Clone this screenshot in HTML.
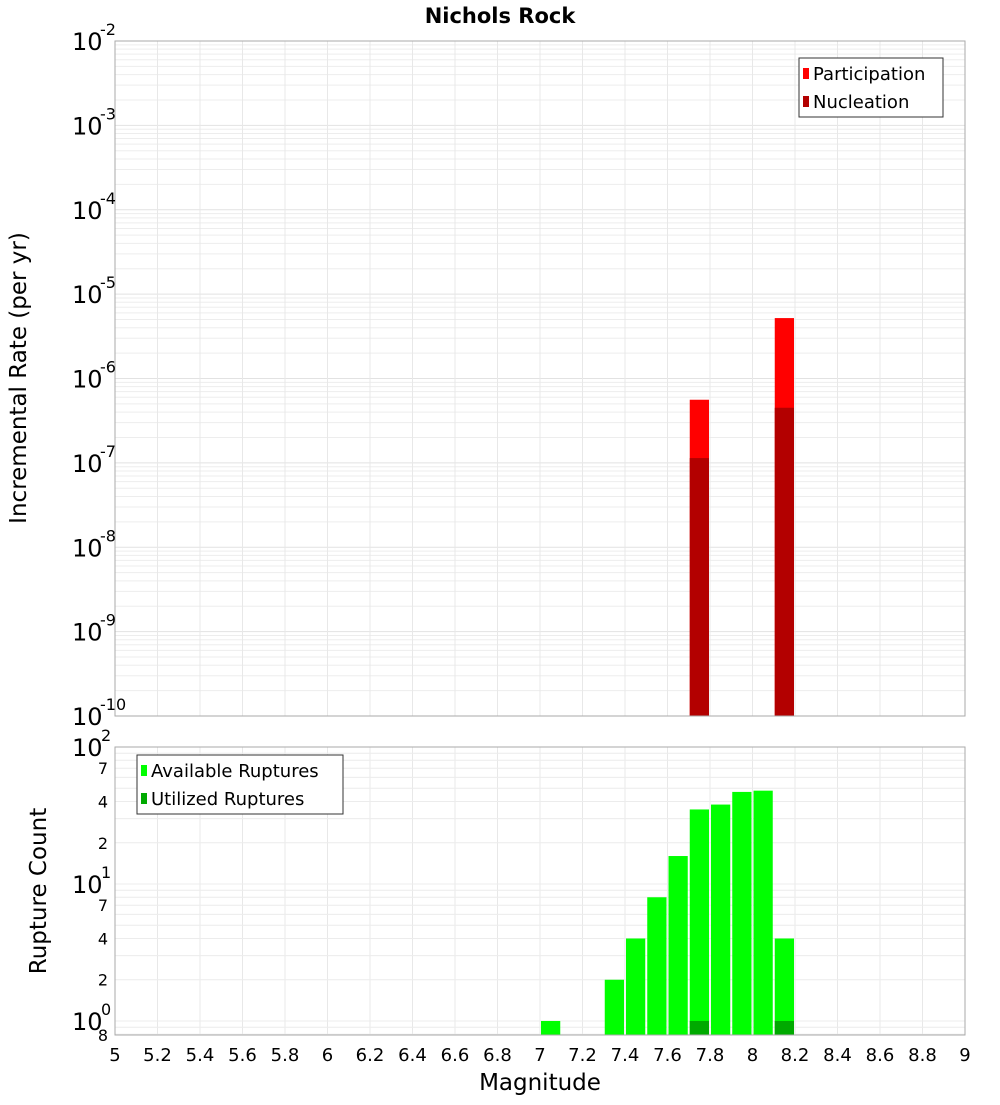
<!DOCTYPE html>
<html><head><meta charset="utf-8">
<style>
html,body{margin:0;padding:0;background:#fff;}
svg text{font-family:"DejaVu Sans","Liberation Sans",sans-serif;fill:#000;}
</style></head>
<body>
<svg id="c" width="1000" height="1100" xmlns="http://www.w3.org/2000/svg">
<text x="500" y="23" text-anchor="middle" font-size="21" font-weight="bold">Nichols Rock</text>
<g id="topPlot"></g>
<g id="botPlot"></g>
<text transform="translate(26,378) rotate(-90)" text-anchor="middle" font-size="23">Incremental Rate (per yr)</text>
<text transform="translate(46,891) rotate(-90)" text-anchor="middle" font-size="23">Rupture Count</text>
<text x="540" y="1090" text-anchor="middle" font-size="23">Magnitude</text>
</svg>
<script>
const xTicks=[5,5.2,5.4,5.6,5.8,6,6.2,6.4,6.6,6.8,7,7.2,7.4,7.6,7.8,8,8.2,8.4,8.6,8.8,9];
const xTickLabels=["5","5.2","5.4","5.6","5.8","6","6.2","6.4","6.6","6.8","7","7.2","7.4","7.6","7.8","8","8.2","8.4","8.6","8.8","9"];
const rateMags=[7.75,8.15];
const participation=[5.6e-7,5.2e-6];
const nucleation=[1.14e-7,4.5e-7];
const countMags=[7.05,7.35,7.45,7.55,7.65,7.75,7.85,7.95,8.05,8.15];
const available=[1,2,4,8,16,35,38,47,48,4];
const utilizedMags=[7.75,8.15];
const utilized=[1,1];
const rateExps=[-2,-3,-4,-5,-6,-7,-8,-9,-10];
const countMinorLabels=[2,4,7];

const NS="http://www.w3.org/2000/svg";
const L=115,R=965;
const T1=41,B1=716,T2=747,B2=1035;
const cMin=0.79,cMax=100;
function xs(m){return L+(m-5)/4*(R-L);}
function ys1(v){return T1+(-2-Math.log10(v))/8*(B1-T1);}
function ys2(v){return B2-(Math.log10(v)-Math.log10(cMin))/(Math.log10(cMax)-Math.log10(cMin))*(B2-T2);}
function mk(p,tag,at){const e=document.createElementNS(NS,tag);for(const k in at)e.setAttribute(k,at[k]);p.appendChild(e);return e;}
const topG=document.getElementById('topPlot'),botG=document.getElementById('botPlot');
const binW=0.1*(R-L)/4;

for(let d=-10;d<-2;d++){for(let k=1;k<10;k++){const y=ys1(k*Math.pow(10,d));
 const g=mk(topG,'line',{x1:L,x2:R,y1:y,y2:y,stroke:k==1?'#e2e2e2':'#ededed','stroke-width':1});
 
 }}
for(const t of xTicks){const x=xs(t);
 const g=mk(topG,'line',{x1:x,x2:x,y1:T1,y2:B1,stroke:'#e8e8e8','stroke-width':1});
 
 
 const g2=mk(botG,'line',{x1:x,x2:x,y1:T2,y2:B2,stroke:'#e8e8e8','stroke-width':1});
 
 }
for(let d=-1;d<2;d++){for(let k=1;k<10;k++){const v=k*Math.pow(10,d);if(v<cMin||v>cMax)continue;const y=ys2(v);
 const g=mk(botG,'line',{x1:L,x2:R,y1:y,y2:y,stroke:'#ececec','stroke-width':1});
 
 }}

rateMags.forEach((m,i)=>{const x=xs(m)-binW/2+1;
 const b=mk(topG,'rect',{x:x,y:ys1(participation[i]),width:binW-2,height:B1-ys1(participation[i]),fill:'#ff0000'});
 
 
 const n=mk(topG,'rect',{x:x,y:ys1(nucleation[i]),width:binW-2,height:B1-ys1(nucleation[i]),fill:'#b30000'});
 
 });
countMags.forEach((m,i)=>{const x=xs(m)-binW/2+1;
 const b=mk(botG,'rect',{x:x,y:ys2(available[i]),width:binW-2,height:B2-ys2(available[i]),fill:'#00ff00'});
 
 });
utilizedMags.forEach((m,i)=>{const x=xs(m)-binW/2+1;
 const b=mk(botG,'rect',{x:x,y:ys2(utilized[i]),width:binW-2,height:B2-ys2(utilized[i]),fill:'#00aa00'});
 
 });

const f1=mk(topG,'rect',{x:L,y:T1,width:R-L,height:B1-T1,fill:'none',stroke:'#aaa','stroke-width':1});


const f2=mk(botG,'rect',{x:L,y:T2,width:R-L,height:B2-T2,fill:'none',stroke:'#aaa','stroke-width':1});



rateExps.forEach(e=>{const y=ys1(Math.pow(10,e));
 const t=mk(topG,'text',{x:72,y:y+9,'font-size':24});
 
 
 t.textContent='10';
 const s=mk(topG,'text',{x:100,y:y-6,'font-size':16});
 
 
 s.textContent=String(e);});
[0,1,2].forEach(e=>{const y=ys2(Math.pow(10,e));
 const t=mk(botG,'text',{x:72,y:y+9,'font-size':24});
 
 
 t.textContent='10';
 const s=mk(botG,'text',{x:101,y:y-6,'font-size':16});
 
 
 s.textContent=String(e);});
[0,1].forEach(d=>countMinorLabels.forEach(k=>{const y=ys2(k*Math.pow(10,d));
 const t=mk(botG,'text',{x:108,y:y+6,'font-size':16,'text-anchor':'end',fill:'#333'});
 
 
 t.textContent=String(k);}));
const e8=mk(botG,'text',{x:108,y:1041,'font-size':16,'text-anchor':'end'});


e8.textContent='8';
xTicks.forEach((t,i)=>{const tx=mk(botG,'text',{x:xs(t),y:1061,'font-size':18,'text-anchor':'middle'});
 
 
 tx.textContent=xTickLabels[i];});

function legend(p,x,y,w,h,items,name){
 const g=mk(p,'g',{});
 
 
 mk(g,'rect',{x:x,y:y,width:w,height:h,fill:'#fff',stroke:'#333','stroke-width':1});
 items.forEach((it,i)=>{const cy=y+15+i*28;
  const sw=mk(g,'rect',{x:x+4,y:cy-5,width:6,height:11,fill:it[1]});
  
  
  const t=mk(g,'text',{x:x+14,y:cy+7,'font-size':18});
  
  
  t.textContent=it[0];});
}
legend(topG,799,58,144,59,[['Participation','#ff0000'],['Nucleation','#b30000']],'rate-legend');
legend(botG,137,755,206,59,[['Available Ruptures','#00ff00'],['Utilized Ruptures','#00aa00']],'count-legend');
</script>
</body></html>
